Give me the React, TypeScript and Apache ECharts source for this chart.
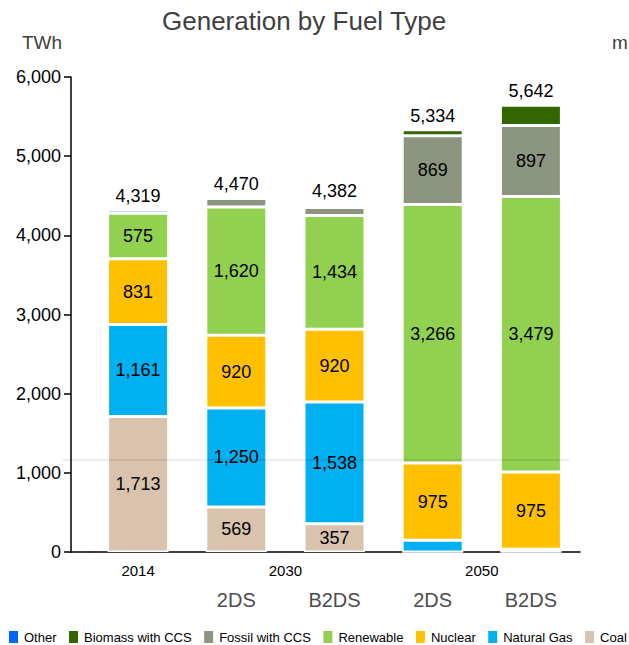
import React, { useEffect, useRef } from "react";
import * as echarts from "echarts";

const categories = ["2014", "2030 2DS", "2030 B2DS", "2050 2DS", "2050 B2DS"];
const scenarioLabels = ["", "2DS", "B2DS", "2DS", "B2DS"];
const yearLabels = ["2014", "2030", "2050"];
const coal = [1713, 569, 357, 0, 0];
const naturalGas = [1161, 1250, 1538, 149, 35];
const nuclear = [831, 920, 920, 975, 975];
const renewable = [575, 1620, 1434, 3266, 3479];
const fossilCCS = [0, 105, 103, 869, 897];
const biomassCCS = [0, 0, 0, 75, 256];
const other = [39, 6, 30, 0, 0];
const totals = [4319, 4470, 4382, 5334, 5642];
const refLineValue = 1162;

const FONT = "'Liberation Sans', Arial, sans-serif";
const fmt = (v: number) => v.toLocaleString("en-US");

const stackSeries = [
  { name: "Coal", data: coal, color: "#D9C3AD" },
  { name: "Natural Gas", data: naturalGas, color: "#00B0F0" },
  { name: "Nuclear", data: nuclear, color: "#FFC000" },
  { name: "Renewable", data: renewable, color: "#92D050" },
  { name: "Fossil with CCS", data: fossilCCS, color: "#8C9580" },
  { name: "Biomass with CCS", data: biomassCCS, color: "#336600" },
  { name: "Other", data: other, color: "#0066FF" },
];
const legendOrder = ["Other", "Biomass with CCS", "Fossil with CCS", "Renewable", "Nuclear", "Natural Gas", "Coal"];

export default function App() {
  const ref = useRef<HTMLDivElement>(null);
  useEffect(() => {
    document.body.style.margin = "0";
    const chart = echarts.init(ref.current!, null, { renderer: "svg" });
    const series: any[] = stackSeries.map((s) => ({
      name: s.name,
      type: "bar",
      stack: "gen",
      barWidth: 61,
      data: s.data,
      itemStyle: { color: s.color, borderColor: "#ffffff", borderWidth: 1.5 },
      label: {
        show: true,
        position: "inside",
        color: "#000",
        fontSize: 18,
        fontFamily: FONT,
        formatter: (p: any) => (p.value >= 300 ? fmt(p.value) : ""),
      },
    }));
    series.push({
      name: "Total",
      type: "bar",
      barWidth: 61,
      barGap: "-100%",
      data: totals,
      silent: true,
      itemStyle: { color: "transparent", borderWidth: 0 },
      label: {
        show: true,
        position: "top",
        distance: 5,
        color: "#000",
        fontSize: 18,
        fontFamily: FONT,
        formatter: (p: any) => fmt(p.value),
      },
      z: 1,
    });
    chart.setOption({
      animation: false,
      textStyle: { fontFamily: FONT },
      title: {
        text: "Generation by Fuel Type",
        left: 162,
        top: 8,
        padding: 0,
        textStyle: { fontSize: 26, fontWeight: "normal", color: "#404040", fontFamily: FONT },
      },
      legend: {
        data: legendOrder,
        left: 7,
        top: 629,
        width: 622,
        padding: 0,
        itemGap: 10.5,
        itemWidth: 11,
        itemHeight: 14,
        icon: "rect",
        textStyle: { fontSize: 13, color: "#000", fontFamily: FONT },
      },
      grid: { left: 89, right: 49, top: 77, bottom: 93, containLabel: false },
      xAxis: {
        type: "category",
        data: categories,
        axisLine: { show: true, lineStyle: { color: "#000", width: 1.5 } },
        axisTick: { show: false },
        axisLabel: {
          margin: 38,
          fontSize: 20,
          color: "#4d4d4d",
          fontFamily: FONT,
          formatter: (_v: string, i: number) => scenarioLabels[i],
        },
      },
      yAxis: {
        type: "value",
        min: 0,
        max: 6000,
        interval: 1000,
        offset: 18,
        axisLine: { show: true, lineStyle: { color: "#000", width: 1.5 } },
        axisTick: { show: true, inside: false, length: 7, lineStyle: { color: "#000", width: 1.5 } },
        splitLine: { show: false },
        axisLabel: { margin: 10, fontSize: 18, color: "#000", fontFamily: FONT, formatter: (v: number) => fmt(v) },
      },
      series,
    });

    const xPx = (i: number) => chart.convertToPixel({ xAxisIndex: 0 }, categories[i]) as number;
    const y0 = chart.convertToPixel({ yAxisIndex: 0 }, 0) as number;
    const yRef = chart.convertToPixel({ yAxisIndex: 0 }, refLineValue) as number;
    const yearX = [xPx(0), (xPx(1) + xPx(2)) / 2, (xPx(3) + xPx(4)) / 2];
    const gridLeft = 89;
    chart.setOption({
      graphic: [
        {
          type: "line",
          shape: { x1: 70, y1: y0, x2: gridLeft, y2: y0 },
          style: { stroke: "#000", lineWidth: 1.5 },
          z: 10,
        },
        {
          type: "line",
          shape: { x1: 63, y1: yRef, x2: 569, y2: yRef },
          style: { stroke: "rgba(0,0,0,0.15)", lineWidth: 1 },
          z: 100,
        },
        ...yearLabels.map((t, i) => ({
          type: "text",
          x: yearX[i],
          y: y0 + 18,
          style: { text: t, fill: "#000", font: `15px ${FONT}`, textAlign: "center", textVerticalAlign: "middle" },
          z: 10,
        })),
        {
          type: "text",
          x: 22,
          y: 42,
          style: { text: "TWh", fill: "#404040", font: `19px ${FONT}`, textAlign: "left", textVerticalAlign: "middle" },
        },
        {
          type: "text",
          x: 612,
          y: 42,
          style: { text: "m", fill: "#404040", font: `19px ${FONT}`, textAlign: "left", textVerticalAlign: "middle" },
        },
      ],
    });
    return () => chart.dispose();
  }, []);
  return <div ref={ref} style={{ width: 629, height: 645, position: "absolute", left: 0, top: 0 }} />;
}
